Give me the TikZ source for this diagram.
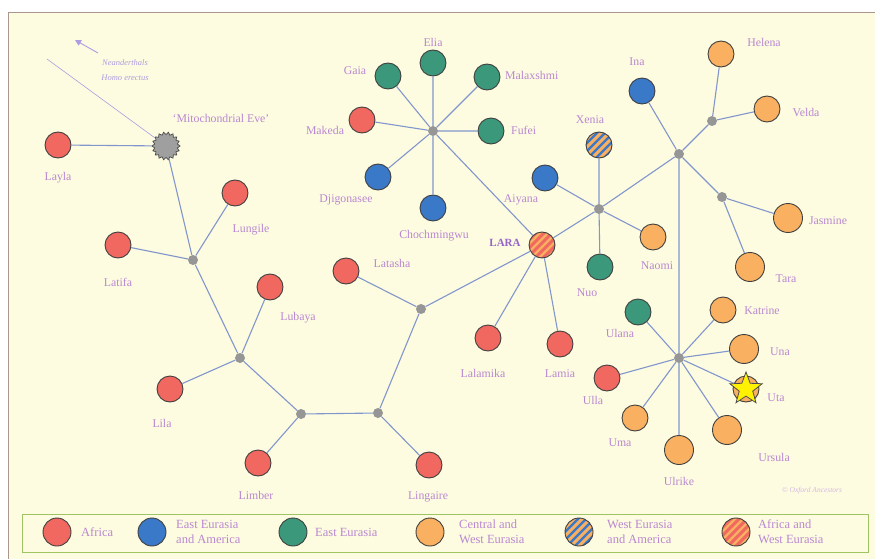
\documentclass[tikz,border=0pt]{standalone}
\usepackage{fontspec}
\setmainfont{Liberation Serif}
\usetikzlibrary{shapes.geometric,arrows.meta}
\definecolor{bgc}{RGB}{253,252,224}
\definecolor{framec}{RGB}{170,150,140}
\definecolor{cafr}{RGB}{240,104,96}
\definecolor{cblue}{RGB}{58,120,200}
\definecolor{cgreen}{RGB}{60,152,122}
\definecolor{corange}{RGB}{249,176,96}
\definecolor{clbl}{RGB}{185,135,210}
\definecolor{clara}{RGB}{150,100,200}
\definecolor{cedge}{RGB}{130,150,205}
\definecolor{cjn}{RGB}{150,150,150}
\definecolor{clegbox}{RGB}{160,195,100}
\definecolor{carrow}{RGB}{175,155,225}
\begin{document}
\begin{tikzpicture}[x=1pt,y=-1pt,
  leaf/.style={circle, draw=black!75, line width=0.9pt, minimum size=26pt, inner sep=0pt},
  big/.style={minimum size=29pt},
  afr/.style={leaf, fill=cafr},
  eea/.style={leaf, fill=cblue},
  ea/.style={leaf, fill=cgreen},
  cwe/.style={leaf, fill=corange},
  striped/.style 2 args={leaf, fill=#1, path picture={
      \foreach \i in {-40,-32,...,40}{
        \draw[#2, line width=3pt] ([xshift=\i pt, yshift=-22pt]path picture bounding box.center) -- ++(44pt,44pt);}}},
  jn/.style={circle, fill=cjn, minimum size=10pt, inner sep=0pt},
  lbl/.style={text=clbl, font=\fontsize{11.8}{13}\selectfont, inner sep=0pt},
  leglbl/.style={lbl, anchor=west, align=left, font=\fontsize{12.5}{15}\selectfont},
  edge/.style={draw=cedge, line width=1.1pt}]
\useasboundingbox (0,0) rectangle (875,559);
% panel
\fill[bgc] (8,12) rectangle (875,559);
\draw[framec, line width=0.8pt] (8,559) -- (8,12) -- (875,12);

% ---------- nodes ----------
\node[star, star points=18, star point ratio=0.82, minimum size=23pt, inner sep=0pt,
      fill=gray!75, draw=black!70, line width=0.7pt] (eve) at (166,146) {};
\node[afr] (layla) at (58,145) {};
\node[jn] (j1) at (193,260) {};
\node[afr] (latifa) at (118,245) {};
\node[afr] (lungile) at (235,193) {};
\node[jn] (j2) at (240,358) {};
\node[afr] (lubaya) at (270,287) {};
\node[afr] (lila) at (170,389) {};
\node[jn] (j3) at (301,414) {};
\node[afr] (limber) at (258,463) {};
\node[jn] (j4) at (378,413) {};
\node[afr] (lingaire) at (429,465) {};
\node[jn] (j5) at (421,309) {};
\node[afr] (latasha) at (346,271) {};
\node[striped={corange}{cafr}] (lara) at (542,245) {};
\node[afr] (lalamika) at (488,338) {};
\node[afr] (lamia) at (560,344) {};
% upper star
\node[jn] (j11) at (433,131) {};
\node[ea] (elia) at (433,63) {};
\node[ea] (gaia) at (388,76) {};
\node[ea] (malaxshmi) at (487,77) {};
\node[afr] (makeda) at (362,120) {};
\node[ea] (fufei) at (491,131) {};
\node[eea] (djigonasee) at (378,177) {};
\node[eea] (chochmingwu) at (433,208) {};
% Xenia group
\node[jn] (j6) at (599,209) {};
\node[striped={cblue}{corange}] (xenia) at (599,145) {};
\node[eea] (aiyana) at (545,178) {};
\node[ea] (nuo) at (600,267) {};
\node[cwe] (naomi) at (653,237) {};
\node[jn] (j7) at (679,154) {};
\node[eea] (ina) at (642,91) {};
\node[jn] (j8) at (712,121) {};
\node[cwe] (helena) at (721,54) {};
\node[cwe] (velda) at (767,109) {};
\node[jn] (j9) at (722,197) {};
\node[cwe, big] (jasmine) at (788,218) {};
\node[cwe, big] (tara) at (750,267) {};
% U group
\node[jn] (j10) at (679,358) {};
\node[ea] (ulana) at (638,312) {};
\node[cwe] (katrine) at (723,310) {};
\node[cwe, big] (una) at (744,349) {};
\node[cwe] (uta) at (746,389) {};
\node[star, star points=5, star point ratio=2.4, minimum size=34pt, inner sep=0pt,
      fill=yellow, draw=black!70, line width=0.8pt] (utastar) at (746,389) {};
\node[cwe, big] (ursula) at (727,430) {};
\node[cwe, big] (ulrike) at (679,450) {};
\node[cwe] (uma) at (635,418) {};
\node[afr] (ulla) at (607,378) {};

% ---------- edges ----------
\path[edge] (eve) -- (layla)  (eve) -- (j1)
  (j1) -- (latifa) (j1) -- (lungile) (j1) -- (j2)
  (j2) -- (lubaya) (j2) -- (lila) (j2) -- (j3)
  (j3) -- (limber) (j3) -- (j4)
  (j4) -- (lingaire) (j4) -- (j5)
  (j5) -- (latasha) (j5) -- (lara)
  (lara) -- (lalamika) (lara) -- (lamia) (lara) -- (j11)
  (j11) -- (elia) (j11) -- (gaia) (j11) -- (malaxshmi) (j11) -- (makeda)
  (j11) -- (fufei) (j11) -- (djigonasee) (j11) -- (chochmingwu)
  (lara) -- (j6)
  (j6) -- (xenia) (j6) -- (aiyana) (j6) -- (nuo) (j6) -- (naomi) (j6) -- (j7)
  (j7) -- (ina) (j7) -- (j8) (j8) -- (helena) (j8) -- (velda)
  (j7) -- (j9) (j9) -- (jasmine) (j9) -- (tara)
  (j7) -- (j10)
  (j10) -- (ulana) (j10) -- (katrine) (j10) -- (una) (j10) -- (uta)
  (j10) -- (ursula) (j10) -- (ulrike) (j10) -- (uma) (j10) -- (ulla);

% Neanderthal branch
\coordinate (nend) at (47,59);
\coordinate (arA) at (98,53);
\coordinate (arB) at (75,40);
\draw[carrow, line width=0.6pt] (eve) -- (nend);
\draw[carrow, line width=0.9pt, -{Triangle[length=6pt,width=6pt]}] (arA) -- (arB);
\node[lbl, font=\itshape\fontsize{8.5}{9}\selectfont, text=carrow] (neand) at (125,63) {Neanderthals};
\node[lbl, font=\itshape\fontsize{8.5}{9}\selectfont, text=carrow] (homo) at (125,78) {Homo erectus};

% ---------- labels ----------
\node[lbl] (t-eve) at (221,118) {‘Mitochondrial Eve’};
\node[lbl] (t-layla) at (58,178) {Layla};
\node[lbl] (t-latifa) at (118,282) {Latifa};
\node[lbl] (t-lungile) at (251,230) {Lungile};
\node[lbl] (t-lubaya) at (298,318) {Lubaya};
\node[lbl] (t-lila) at (162,423) {Lila};
\node[lbl] (t-limber) at (256,495) {Limber};
\node[lbl] (t-lingaire) at (428,497) {Lingaire};
\node[lbl] (t-latasha) at (392,263) {Latasha};
\node[lbl, text=clara, font=\bfseries\fontsize{11}{12}\selectfont] (t-lara) at (505,243) {LARA};
\node[lbl] (t-lalamika) at (483,373) {Lalamika};
\node[lbl] (t-lamia) at (560,374) {Lamia};
\node[lbl] (t-makeda) at (325,130) {Makeda};
\node[lbl] (t-gaia) at (355,71) {Gaia};
\node[lbl] (t-elia) at (433,42) {Elia};
\node[lbl, anchor=west] (t-malaxshmi) at (505,75) {Malaxshmi};
\node[lbl, anchor=west] (t-fufei) at (511,130) {Fufei};
\node[lbl] (t-djigonasee) at (346,200) {Djigonasee};
\node[lbl] (t-chochmingwu) at (434,236) {Chochmingwu};
\node[lbl] (t-aiyana) at (521,200) {Aiyana};
\node[lbl] (t-xenia) at (590,120) {Xenia};
\node[lbl] (t-nuo) at (587,293) {Nuo};
\node[lbl] (t-naomi) at (657,266) {Naomi};
\node[lbl] (t-ina) at (637,62) {Ina};
\node[lbl] (t-helena) at (764,42) {Helena};
\node[lbl] (t-velda) at (806,112) {Velda};
\node[lbl] (t-jasmine) at (828,221) {Jasmine};
\node[lbl] (t-tara) at (786,279) {Tara};
\node[lbl] (t-ulana) at (620,333) {Ulana};
\node[lbl] (t-katrine) at (762,311) {Katrine};
\node[lbl] (t-una) at (780,352) {Una};
\node[lbl] (t-uta) at (776,398) {Uta};
\node[lbl] (t-ulla) at (593,400) {Ulla};
\node[lbl] (t-uma) at (620,443) {Uma};
\node[lbl] (t-ulrike) at (679,481) {Ulrike};
\node[lbl] (t-ursula) at (774,457) {Ursula};
\node[lbl, font=\itshape\fontsize{7.5}{8}\selectfont, text=clbl!60] (copy) at (812,491) {© Oxford Ancestors};

% ---------- legend ----------
\draw[clegbox, line width=0.8pt] (22,514) rectangle (868,552);
\node[afr, minimum size=28pt] (lg1) at (57,532) {};
\node[leglbl] (lt1) at (81,532) {Africa};
\node[eea, minimum size=28pt] (lg2) at (152,532) {};
\node[leglbl] (lt2) at (176,532) {East Eurasia\\and America};
\node[ea, minimum size=28pt] (lg3) at (293,532) {};
\node[leglbl] (lt3) at (315,532) {East Eurasia};
\node[cwe, minimum size=28pt] (lg4) at (430,532) {};
\node[leglbl] (lt4) at (459,532) {Central and\\West Eurasia};
\node[striped={cblue}{corange}, minimum size=28pt] (lg5) at (579,532) {};
\node[leglbl] (lt5) at (607,532) {West Eurasia\\and America};
\node[striped={corange}{cafr}, minimum size=28pt] (lg6) at (736,532) {};
\node[leglbl] (lt6) at (758,532) {Africa and\\West Eurasia};
\end{tikzpicture}
\end{document}
